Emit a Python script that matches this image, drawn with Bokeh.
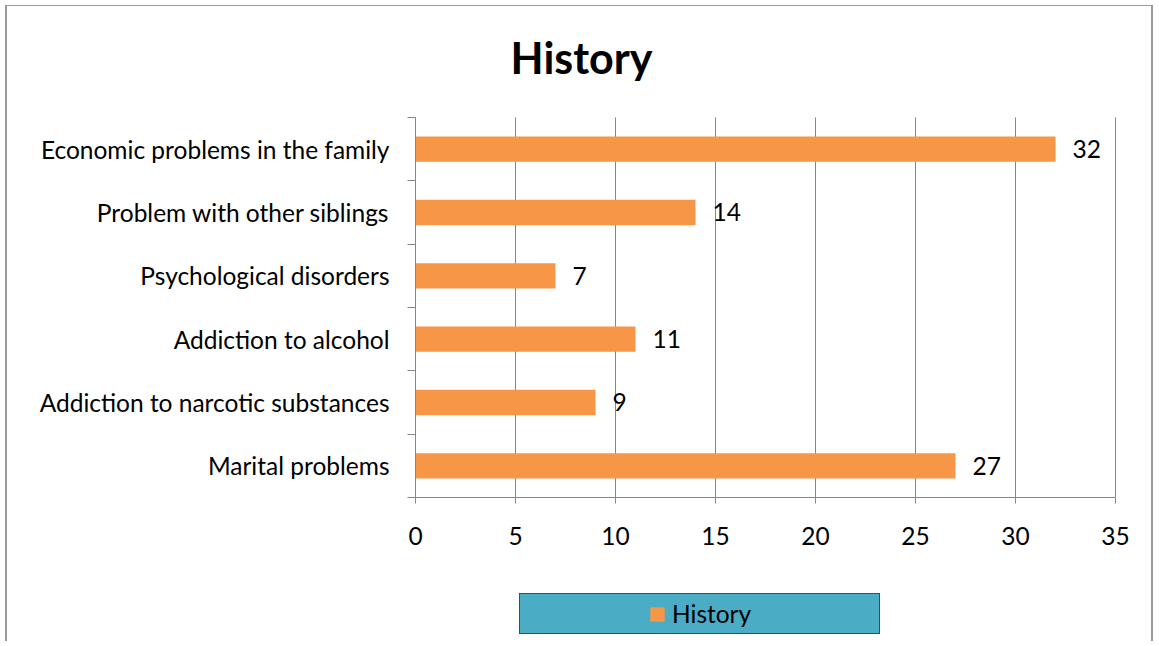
from bokeh.plotting import figure
from bokeh.models import FixedTicker, Legend, LegendItem, ColumnDataSource, LabelSet, Label, Range1d
from bokeh.core.properties import value
from bokeh.embed import file_html
from bokeh.resources import INLINE

# data (bottom to top)
categories = ["Marital problems", "Addiction to narcotic substances", "Addiction to alcohol",
              "Psychological disorders", "Problem with other siblings", "Economic problems in the family"]
values = [27, 9, 11, 7, 14, 32]
x_ticks = [0, 5, 10, 15, 20, 25, 30, 35]
series_name = "History"
title_text = "History"

FONT = "Lato"
FS = "24.5px"
GRID = "#868686"

n = len(categories)
pos = [i + 0.5 for i in range(n)]
src = ColumnDataSource(dict(y=pos, v=values, t=[str(v) for v in values]))
grid_src = ColumnDataSource(dict(x=x_ticks, y0=[0] * len(x_ticks), y1=[n] * len(x_ticks)))

# the frame fills the whole chart; axes are drawn at x = 0 and y = 0
X0, X1 = -20.4, 37.0
Y0, Y1 = -2.2895, n + 1.7526
p = figure(width=1148, height=636, x_range=Range1d(X0, X1), y_range=Range1d(Y0, Y1),
           output_backend="svg", toolbar_location=None,
           min_border_left=0, min_border_right=0, min_border_top=0, min_border_bottom=0)
p.styles = {"margin-left": "5px", "margin-top": "5px",
            "border-top": "1px solid #9a9a9a", "border-left": "2px solid #9a9a9a",
            "border-right": "2px solid #9a9a9a"}
p.outline_line_color = None
p.title.visible = False
p.xgrid.visible = False
p.ygrid.visible = False

p.segment(x0="x", y0="y0", x1="x", y1="y1", source=grid_src, line_color=GRID, line_width=1)
r = p.hbar(y="y", right="v", left=0, height=0.4, source=src, fill_color="#F79646", line_color=None)
sp1 = p.hbar(y=[], right=[], left=0, height=0.4, fill_alpha=0, line_alpha=0)
sp2 = p.hbar(y=[], right=[], left=0, height=0.4, fill_alpha=0, line_alpha=0)

labels = LabelSet(x="v", y="y", text="t", x_offset=17, source=src, text_baseline="middle",
                  text_font=value(FONT), text_font_size=FS, text_color="black")
p.add_layout(labels)

# x axis, drawn at y = 0
p.xaxis.fixed_location = 0
p.xaxis.bounds = (x_ticks[0], x_ticks[-1])
p.xaxis.ticker = FixedTicker(ticks=x_ticks)
p.xaxis.axis_line_color = GRID
p.xaxis.major_tick_line_color = GRID
p.xaxis.major_tick_out = 6
p.xaxis.major_tick_in = 0
p.xaxis.minor_tick_line_color = None
p.xaxis.major_label_standoff = 24
p.xaxis.major_label_text_font = FONT
p.xaxis.major_label_text_font_size = FS
p.xaxis.major_label_text_color = "black"

# y axis, drawn at x = 0
p.yaxis.fixed_location = 0
p.yaxis.bounds = (0, n)
p.yaxis.ticker = FixedTicker(ticks=pos, minor_ticks=list(range(n + 1)))
p.yaxis.major_label_overrides = {pos[i]: categories[i] for i in range(n)}
p.yaxis.axis_line_color = GRID
p.yaxis.major_tick_line_color = None
p.yaxis.minor_tick_line_color = GRID
p.yaxis.minor_tick_out = 8
p.yaxis.minor_tick_in = 0
p.yaxis.major_label_standoff = 18
p.yaxis.major_label_text_font = FONT
p.yaxis.major_label_text_font_size = FS
p.yaxis.major_label_text_color = "black"

# chart title, centred over the chart
title = Label(x=(X0 + X1) / 2, y=Y1 - 0.805, text=title_text, text_align="center",
              text_baseline="middle", text_font=FONT, text_font_size="43px",
              text_font_style="bold", text_color="black")
p.add_layout(title)

legend = Legend(items=[LegendItem(label=" ", renderers=[sp1]),
                       LegendItem(label=series_name, renderers=[r]),
                       LegendItem(label=" ", renderers=[sp2])],
                orientation="horizontal", location=(512, 8),
                padding=5, spacing=39, glyph_width=18, glyph_height=18, label_standoff=6,
                label_width=60, label_text_font=FONT, label_text_font_size=FS,
                label_text_color="black",
                background_fill_color="#4BACC6", background_fill_alpha=1,
                border_line_color="black", border_line_width=1.5, margin=0)
p.add_layout(legend, "center")

open("out.html", "w").write(file_html(p, INLINE))
